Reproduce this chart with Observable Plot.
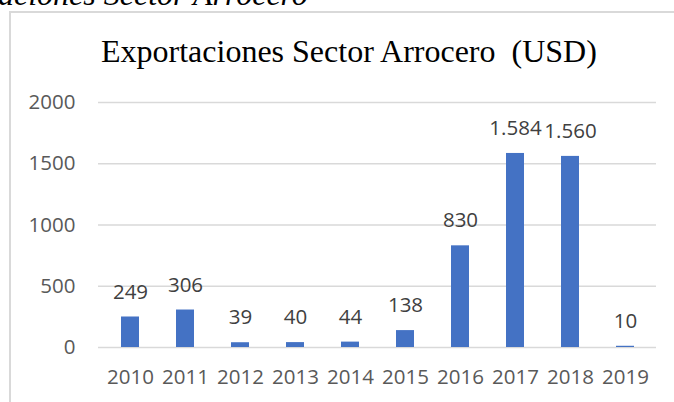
<!DOCTYPE html>
<html><head><meta charset="utf-8">
<script src="https://cdn.jsdelivr.net/npm/d3@7"></script>
<script src="https://cdn.jsdelivr.net/npm/@observablehq/plot@0.6"></script>
<style>
html,body{margin:0;padding:0;background:#fff;overflow:hidden}
#wrap{position:relative;width:674px;height:402px;overflow:hidden}
#caption{position:absolute;left:-2px;top:-22px;font-family:"Liberation Serif","Times New Roman",serif;font-style:italic;font-size:32px;line-height:1;color:#000;white-space:pre}
#box{position:absolute;left:9px;top:11px;width:680px;height:420px;border-left:2px solid #d9d9d9;border-top:2px solid #d9d9d9}
#title{position:absolute;left:101px;top:35px;font-family:"Liberation Serif","Times New Roman",serif;font-size:32px;line-height:1;color:#000;white-space:pre}
</style></head>
<body><div id="wrap">
<div id="caption">aciones Sector Arrocero</div>
<div id="box"></div>
<div id="title">Exportaciones Sector Arrocero  (USD)</div>
</div>
<script>
const years = ["2010","2011","2012","2013","2014","2015","2016","2017","2018","2019"];
const values = [249,306,39,40,44,138,830,1584,1560,10];
const yTicks = [0,500,1000,1500,2000];

const data = years.map((y,i)=>({year:y, value:values[i]}));
const fmt = d3.formatLocale({decimal:",",thousands:".",grouping:[3],currency:["","$"]}).format(",d");

const chart = Plot.plot({
  width:674, height:402,
  marginLeft:98, marginRight:18, marginTop:102, marginBottom:55,
  style:{fontFamily:"'Open Sans', sans-serif", fontSize:"20.5px", color:"#595959", background:"transparent"},
  x:{domain:years, paddingInner:0.68, paddingOuter:0.34, label:null},
  y:{domain:[0,2000], label:null},
  marks:[
    Plot.ruleY(yTicks, {stroke:"#d9d9d9", strokeWidth:1.5}),
    Plot.barY(data, {x:"year", y:"value", fill:"#4472C4"}),
    Plot.text(data, {x:"year", y:"value", text:d=>fmt(d.value), dy:-25, fill:"#404040", fontSize:20.5}),
    Plot.axisY({ticks:yTicks, tickSize:0, tickPadding:23, tickFormat:d=>String(d), label:null}),
    Plot.axisX({tickSize:0, tickPadding:22, label:null})
  ]
});
chart.style.position="absolute"; chart.style.left="0px"; chart.style.top="0px";
document.getElementById("wrap").appendChild(chart);
</script>
</body></html>
